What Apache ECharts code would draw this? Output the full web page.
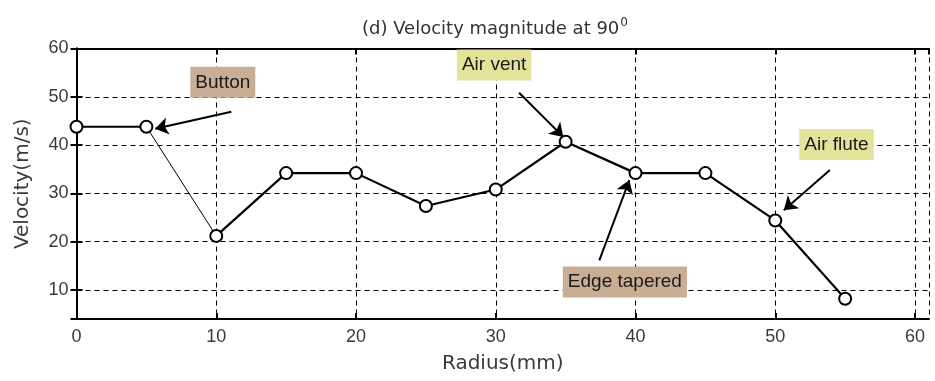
<!DOCTYPE html>
<html>
<head>
<meta charset="utf-8">
<script src="https://cdn.jsdelivr.net/npm/echarts@6/dist/echarts.min.js"></script>
<style>
  html, body { margin: 0; padding: 0; background: #fff; }
  #chart { width: 935px; height: 381px; }
</style>
</head>
<body>
<div id="chart"></div>
<script>
// Measured radial velocity profile
const radius = [0, 5, 10, 15, 20, 25, 30, 35, 40, 45, 50, 55];
const velocity = [43.8, 43.8, 21.2, 34.2, 34.2, 27.4, 30.8, 40.7, 34.2, 34.2, 24.4, 8.2];

// Callout labels (data coordinates of label centre)
const noteText = ['Button', 'Air vent', 'Air flute', 'Edge tapered'];
const noteAt = [[10.47, 53.0], [29.88, 56.6], [54.38, 40.15], [39.24, 11.66]];
const noteFill = ['#c9ad95', '#e3e49a', '#e3e49a', '#c9ad95'];
// Arrow tail / head for each callout
const arrowFrom = [[11.08, 46.9], [31.67, 50.85], [53.91, 34.84], [37.41, 16.13]];
const arrowTo = [[5.63, 43.37], [34.83, 41.7], [50.61, 26.53], [39.56, 32.77]];

const xMin = 0, xMax = 61, yMin = 4, yMax = 60;

const pts = radius.map((r, i) => [r, velocity[i]]);
const FONT = 'Liberation Sans, Arial, sans-serif';
const WIDE = 'DejaVu Sans, sans-serif';
const labelColor = '#3a3a3a';

const frameAxis = {
  axisLine: { show: true, lineStyle: { color: '#000', width: 2 } },
  axisTick: { show: true, inside: true, length: 6, lineStyle: { color: '#000', width: 2 } }
};

const chart = echarts.init(document.getElementById('chart'), null, { renderer: 'canvas' });
chart.setOption({
  animation: false,
  backgroundColor: '#fff',
  title: {
    text: '(d) Velocity magnitude at 90{sup|0}',
    left: 357, top: 12,
    textStyle: {
      fontFamily: WIDE, fontSize: 18, fontWeight: 'normal', color: '#333',
      rich: { sup: { fontFamily: WIDE, fontSize: 12, color: '#333', verticalAlign: 'top', padding: [0, 0, 12, 1] } }
    }
  },
  grid: { left: 76.5, right: 6, top: 48.5, bottom: 62, containLabel: false },
  xAxis: [
    Object.assign({
      type: 'value', position: 'bottom', min: xMin, max: xMax, interval: 10,
      name: 'Radius(mm)', nameLocation: 'middle', nameGap: 35,
      nameTextStyle: { fontFamily: WIDE, fontSize: 20, color: labelColor },
      axisLabel: { fontFamily: FONT, fontSize: 18, color: labelColor, margin: 9, showMaxLabel: false },
      splitLine: { show: true, lineStyle: { color: '#000', width: 1, type: [5, 4] } }
    }, frameAxis),
    Object.assign({
      type: 'value', position: 'top', min: xMin, max: xMax, interval: 10,
      axisLabel: { show: false }, splitLine: { show: false }
    }, frameAxis)
  ],
  yAxis: [
    Object.assign({
      type: 'value', position: 'left', min: yMin, max: yMax, splitNumber: 6,
      name: 'Velocity(m/s)', nameLocation: 'middle', nameGap: 44,
      nameTextStyle: { fontFamily: WIDE, fontSize: 20, color: labelColor },
      axisLabel: { fontFamily: FONT, fontSize: 18, color: labelColor, margin: 8, showMinLabel: false },
      splitLine: { show: true, lineStyle: { color: '#000', width: 1, type: [5, 4] } }
    }, frameAxis),
    Object.assign({
      type: 'value', position: 'right', min: yMin, max: yMax, splitNumber: 6,
      axisLabel: { show: false }, splitLine: { show: false }
    }, frameAxis)
  ],
  series: [
    {
      name: 'plateau', type: 'line', data: pts.slice(0, 2), symbol: 'none',
      lineStyle: { color: '#000', width: 2.2 }, clip: false, z: 3
    },
    {
      name: 'drop', type: 'line', data: pts.slice(1, 3), symbol: 'none',
      lineStyle: { color: '#000', width: 1 }, clip: false, z: 3
    },
    {
      name: 'profile', type: 'line', data: pts.slice(2), symbol: 'none',
      lineStyle: { color: '#000', width: 2.2 }, clip: false, z: 3,
      markLine: {
        silent: true, symbol: ['none', 'arrow'], symbolSize: 13,
        label: { show: false },
        itemStyle: { color: '#000' },
        lineStyle: { color: '#000', width: 2, type: 'solid' },
        data: arrowFrom.map((a, i) => [{ coord: a }, { coord: arrowTo[i] }])
      },
      markPoint: {
        silent: true, symbol: 'circle', symbolSize: 1,
        itemStyle: { color: 'rgba(0,0,0,0)' },
        data: noteText.map((t, i) => ({
          coord: noteAt[i],
          label: {
            show: true, position: 'inside', formatter: t,
            fontFamily: FONT, fontSize: 19, color: '#1a1a1a', lineHeight: 21,
            backgroundColor: noteFill[i], padding: [5, 5]
          }
        }))
      }
    },
    {
      name: 'points', type: 'scatter', data: pts, symbol: 'circle', symbolSize: 12,
      itemStyle: { color: '#fff', opacity: 1, borderColor: '#000', borderWidth: 2 },
      clip: false, z: 4
    }
  ]
});
</script>
</body>
</html>
